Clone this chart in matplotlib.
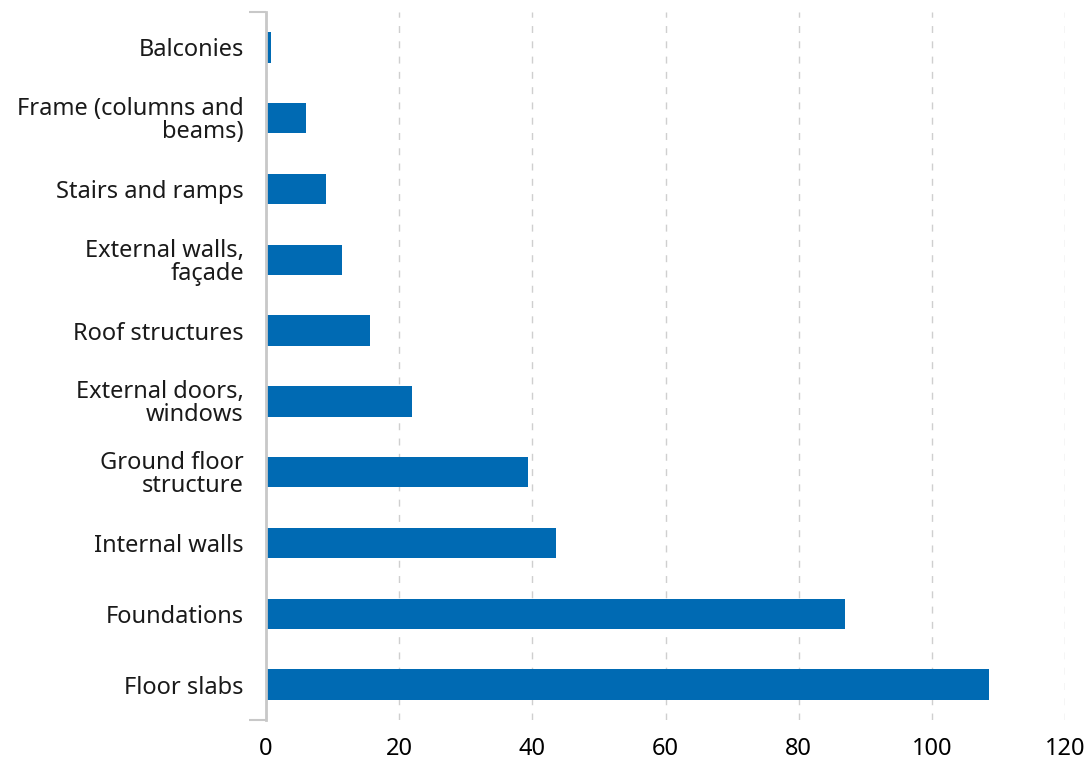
import matplotlib
matplotlib.use("Agg")
import matplotlib.pyplot as plt

# building parts, listed top to bottom as in the chart
categories = [
    "Balconies",
    "Frame (columns and\nbeams)",
    "Stairs and ramps",
    "External walls,\nfaçade",
    "Roof structures",
    "External doors,\nwindows",
    "Ground floor\nstructure",
    "Internal walls",
    "Foundations",
    "Floor slabs",
]
values = [0.8, 6.0, 9.0, 11.4, 15.6, 21.9, 39.4, 43.5, 86.9, 108.6]
x_ticks = [0, 20, 40, 60, 80, 100, 120]

bar_color = "#006AB3"
plt.rcParams["font.family"] = ["Noto Sans", "DejaVu Sans"]

fig = plt.figure(figsize=(10.92, 7.61), dpi=100)
ax = fig.add_axes([0.2436, 0.0539, 0.7317, 0.9304])

pos = list(range(len(categories)))
ax.barh(pos, values, height=0.43, color=bar_color, zorder=3)

ax.set_ylim(len(categories) - 0.5, -0.5)
ax.set_xlim(0, 120)
ax.set_xticks(x_ticks)
ax.set_xticklabels([str(t) for t in x_ticks], fontsize=17, color="black",
                   fontweight="medium")
ax.set_yticks(pos)
ax.set_yticklabels(categories, fontsize=17, color="#1a1a1a", linespacing=0.95)
ax.tick_params(axis="y", length=0, pad=16)
ax.tick_params(axis="x", length=0, pad=12)

# little end caps on the category axis
ax.set_yticks([-0.5, len(categories) - 0.5], minor=True)
ax.tick_params(axis="y", which="minor", length=12, width=1.5, color="#c8c8c8")

ax.grid(axis="x", linestyle=(0, (5, 6)), color="#cfcfcf", linewidth=1, zorder=0)
for s in ["top", "right", "bottom"]:
    ax.spines[s].set_visible(False)
ax.spines["left"].set_color("#c8c8c8")
ax.spines["left"].set_linewidth(2)
ax.spines["left"].set_zorder(4)

fig.savefig("out.png", dpi=100)
